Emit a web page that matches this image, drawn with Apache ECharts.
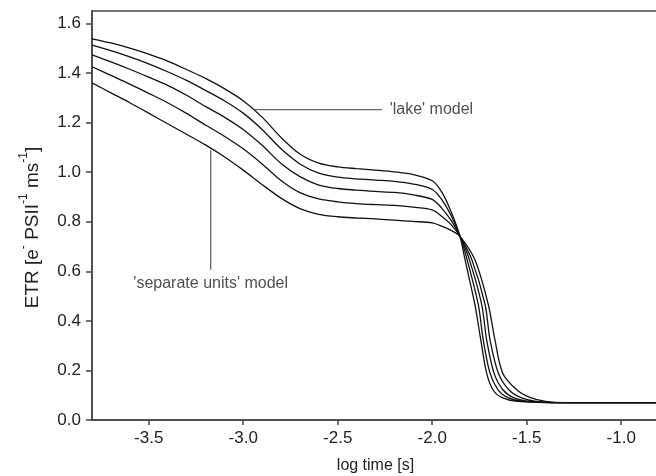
<!DOCTYPE html>
<html>
<head>
<meta charset="utf-8">
<script src="https://cdn.jsdelivr.net/npm/echarts@6/dist/echarts.min.js"></script>
<style>
  html, body { margin: 0; padding: 0; background: #fff; }
  #chart { width: 656px; height: 476px; }
</style>
</head>
<body>
<div id="chart"></div>
<script>
// log time grid for the slow (upper) part of the curves
const logTime = [-3.8, -3.7, -3.6, -3.5, -3.4, -3.3, -3.2, -3.1, -3.0, -2.9, -2.8, -2.7, -2.6, -2.5, -2.4, -2.3, -2.2, -2.1, -2.0, -1.95, -1.9]
const etrA = [1.538, 1.521, 1.50, 1.476, 1.448, 1.414, 1.378, 1.337, 1.288, 1.222, 1.14, 1.073, 1.036, 1.021, 1.014, 1.008, 1.001, 0.99, 0.965, 0.92, 0.84]
const etrB = [1.512, 1.49, 1.465, 1.437, 1.405, 1.37, 1.33, 1.288, 1.238, 1.172, 1.094, 1.033, 0.996, 0.98, 0.973, 0.968, 0.963, 0.952, 0.93, 0.89, 0.825]
const etrC = [1.473, 1.445, 1.415, 1.383, 1.35, 1.31, 1.265, 1.222, 1.172, 1.108, 1.035, 0.982, 0.948, 0.934, 0.927, 0.922, 0.918, 0.908, 0.89, 0.855, 0.805]
const etrD = [1.425, 1.39, 1.355, 1.318, 1.28, 1.237, 1.19, 1.145, 1.094, 1.033, 0.966, 0.917, 0.892, 0.88, 0.873, 0.869, 0.866, 0.859, 0.848, 0.822, 0.788]
const etrE = [1.36, 1.32, 1.28, 1.238, 1.195, 1.153, 1.11, 1.062, 1.008, 0.95, 0.895, 0.853, 0.83, 0.82, 0.815, 0.811, 0.806, 0.801, 0.795, 0.782, 0.765]

// common crossing point of all curves
const crossPoint = [-1.853, 0.741]

// fast drop: ETR levels and the log time where each curve passes them
const dropLevels = [0.646, 0.465, 0.323, 0.189, 0.121, 0.09, 0.075]
const dropA = [-1.826, -1.774, -1.743, -1.712, -1.678, -1.63, -1.55]
const dropB = [-1.815, -1.756, -1.73, -1.694, -1.651, -1.60, -1.52]
const dropC = [-1.803, -1.738, -1.712, -1.673, -1.625, -1.57, -1.49]
const dropD = [-1.79, -1.72, -1.694, -1.65, -1.593, -1.53, -1.45]
const dropE = [-1.774, -1.703, -1.668, -1.627, -1.551, -1.48, -1.40]

// final plateau
const tailTime = [-1.3, -0.8]
const tailEtr = 0.07

const xTicks = [-3.5, -3.0, -2.5, -2.0, -1.5, -1.0]
const yTicks = [0, 0.2, 0.4, 0.6, 0.8, 1.0, 1.2, 1.4, 1.6]

// annotations
const lakeLeader = [[-2.938, 1.252], [-2.266, 1.252]]
const lakeText = [-2.225, 1.252]
const sepLeader = [[-3.172, 1.088], [-3.172, 0.606]]
const sepText = [-3.172, 0.549]

const font = 'Liberation Sans, Arial, sans-serif'

function buildCurve(etr, drop) {
    const pts = logTime.map((t, i) => [t, etr[i]])
    pts.push(crossPoint)
    drop.forEach((t, i) => pts.push([t, dropLevels[i]]))
    tailTime.forEach(t => pts.push([t, tailEtr]))
    return pts
}

const curves = [[etrA, dropA], [etrB, dropB], [etrC, dropC], [etrD, dropD], [etrE, dropE]]

const curveSeries = curves.map(c => ({
    type: 'line',
    data: buildCurve(c[0], c[1]),
    smooth: 0.3,
    showSymbol: false,
    silent: true,
    lineStyle: { color: '#111', width: 1.3 }
}))

const chart = echarts.init(document.getElementById('chart'))
chart.setOption({
    backgroundColor: '#fff',
    animation: false,
    grid: {
        left: 92, right: -3, top: 11, bottom: 56,
        show: true, borderColor: '#444', borderWidth: 1.5,
        outerBoundsMode: 'none'
    },
    xAxis: {
        type: 'value',
        min: -3.8,
        max: -0.8,
        name: 'log time [s]',
        nameLocation: 'middle',
        nameGap: 38,
        nameTextStyle: { fontFamily: font, fontSize: 16, color: '#222' },
        axisLine: { lineStyle: { color: '#444', width: 1.5 } },
        axisTick: { customValues: xTicks, length: 5, lineStyle: { color: '#444', width: 1.5 } },
        axisLabel: {
            customValues: xTicks,
            margin: 10,
            fontFamily: font, fontSize: 17, color: '#222',
            formatter: v => v.toFixed(1)
        },
        splitLine: { show: false }
    },
    yAxis: {
        type: 'value',
        min: 0,
        max: 1.65,
        name: '{n|ETR [e}{s|-}{n| PSII}{s|-1}{n| ms}{s|-1}{n|]}',
        nameLocation: 'middle',
        nameGap: 50,
        nameTextStyle: {
            padding: [0, 24, 0, 0],
            rich: {
                n: { fontFamily: font, fontSize: 19, color: '#222', lineHeight: 24, verticalAlign: 'bottom' },
                s: { fontFamily: font, fontSize: 12, color: '#222', lineHeight: 13, verticalAlign: 'top' }
            }
        },
        axisLine: { show: true, lineStyle: { color: '#444', width: 1.5 } },
        axisTick: { show: true, customValues: yTicks, length: 6, lineStyle: { color: '#444', width: 1.5 } },
        axisLabel: {
            customValues: yTicks,
            margin: 11,
            fontFamily: font, fontSize: 17, color: '#222',
            formatter: v => v.toFixed(1)
        },
        splitLine: { show: false }
    },
    series: curveSeries.concat([
        {
            type: 'line', data: lakeLeader, showSymbol: false, silent: true,
            lineStyle: { color: '#666', width: 1.3 }
        },
        {
            type: 'line', data: sepLeader, showSymbol: false, silent: true,
            lineStyle: { color: '#666', width: 1.3 }
        },
        {
            type: 'scatter', symbolSize: 0, silent: true,
            data: [{ value: lakeText, label: { show: true, position: 'right', distance: 0, formatter: "'lake' model" } }],
            label: { fontFamily: font, fontSize: 16, color: '#222' }
        },
        {
            type: 'scatter', symbolSize: 0, silent: true,
            data: [{ value: sepText, label: { show: true, position: 'inside', formatter: "'separate units' model" } }],
            label: { fontFamily: font, fontSize: 16, color: '#222' }
        }
    ])
})
</script>
</body>
</html>
